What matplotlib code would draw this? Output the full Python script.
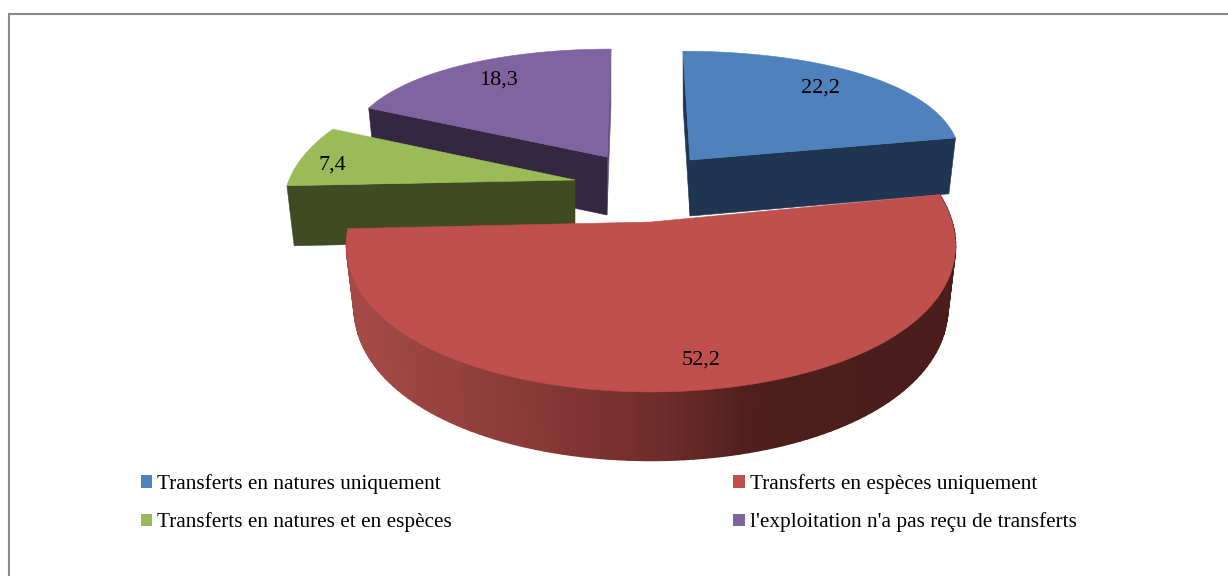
#! /bin/python3

import numpy as np
import matplotlib
matplotlib.use('Agg')
import matplotlib.pyplot as plt
from matplotlib.collections import PolyCollection
from matplotlib.colors import LinearSegmentedColormap
from matplotlib.patches import Patch, Polygon

# chart data
categories = ['Transferts en natures uniquement',
              'Transferts en espèces uniquement',
              'Transferts en natures et en espèces',
              "l'exploitation n'a pas reçu de transferts"]
values = [22.2, 52.2, 7.4, 18.3]
value_labels = ['22,2', '52,2', '7,4', '18,3']

# colours: top face, cut face, thin far face
top_colors = ['#4F81BD', '#C0504D', '#9BBB59', '#8064A2']
wall_colors = ['#1F3552', '#4B1E1D', '#404A23', '#342741']
sliver_colors = ['#1F3552', '#4B1E1D', '#404A23', '#684F88']

# layout of each exploded slice, in pixels of the picture
tips = [(690, 160), (651, 222), (575, 180), (607, 157)]
radius_x = [271, 301, 286, 263]
radius_y = [130, 157, 134, 129]
persp_x = [0.0, 0.15, 0.19, 0.0]
persp_y = [0.195, 0.076, 0.195, 0.195]
shear = [-7, 0, 0, 4]
depth = [56, 60, 60, 58]
bottom_scale_y = [1.0, 1.05, 1.0, 1.0]
label_pos = [(820, 88), (701, 360), (332, 165), (498, 80)]

plt.rcParams['font.family'] = ['Liberation Serif', 'DejaVu Sans']

fig = plt.figure(figsize=(12.28, 5.76), dpi=100)
ax = fig.add_axes([0, 0, 1, 1])
ax.set_xlim(0, 1228)
ax.set_ylim(576, 0)
ax.axis('off')

# chart frame, only the left and top sides fall inside the picture
ax.plot([9, 9, 1228], [576, 14, 14], color='#8a8a8a', lw=1.5, solid_joinstyle='miter')


def rim(i, t):
    # t is the clockwise angle from the top, in radians
    u, v = np.sin(t), np.cos(t)
    x = tips[i][0] + (radius_x[i] * u + shear[i] * v) / (1 + persp_x[i] * v)
    y = tips[i][1] - radius_y[i] * v / (1 + persp_y[i] * v)
    return x, y


def drop(i, x, y):
    # same point on the underside of the slice
    return (tips[i][0] + 0.975 * (x - tips[i][0]),
            tips[i][1] + bottom_scale_y[i] * (y - tips[i][1]) + depth[i])


def slice_angles(i):
    cum = np.cumsum([0] + values) / sum(values) * 2 * np.pi
    return np.linspace(cum[i], cum[i + 1], 120)


def face(i, edge, color, z):
    tip = tips[i]
    ex, ey = rim(i, edge)
    pts = [tip, (ex, ey), drop(i, ex, ey), drop(i, *tip)]
    ax.add_patch(Polygon(pts, closed=True, fc=color, ec=color, lw=0.4, zorder=z))


def top_face(i, z):
    xs, ys = rim(i, slice_angles(i))
    pts = [tips[i]] + list(zip(xs, ys))
    ax.add_patch(Polygon(pts, closed=True, fc=top_colors[i], ec=top_colors[i], lw=0.4, zorder=z))


# purple, far away
t = slice_angles(3)
face(3, t[-1], sliver_colors[3], 1)
face(3, t[0], wall_colors[3], 2)
top_face(3, 3)

# green
t = slice_angles(2)
face(2, t[0], wall_colors[2], 4)
top_face(2, 5)

# blue
t = slice_angles(0)
face(0, t[0], sliver_colors[0], 6)
face(0, t[-1], wall_colors[0], 7)
top_face(0, 8)

# red with its shaded outer wall
t = slice_angles(1)
xs, ys = rim(1, t)
xb, yb = drop(1, xs, ys)
quads = [[(xs[j], ys[j]), (xs[j + 1], ys[j + 1]), (xb[j + 1], yb[j + 1]), (xb[j], yb[j])]
         for j in range(len(t) - 1)]
shade = LinearSegmentedColormap.from_list('wall', [(0, '#A34A47'), (0.25, '#8D3C39'),
                                                   (0.5, '#702D2B'), (0.68, '#4C1E1C'),
                                                   (1, '#4B1E1D')])
wall_col = shade(np.clip(((xs[:-1] + xs[1:]) / 2 - 355) / 600, 0, 1))
ax.add_collection(PolyCollection(quads, facecolors=wall_col, edgecolors=wall_col, lw=1.2, zorder=9))
top_face(1, 10)

for i in range(len(values)):
    ax.text(label_pos[i][0], label_pos[i][1], value_labels[i], fontsize=16, color='black',
            ha='center', va='center', zorder=11)

# ncols fills by column, so swap the middle two to read like the original rows
order = [0, 2, 1, 3]
handles = [Patch(fc=top_colors[i], ec=top_colors[i], lw=0, label=categories[i]) for i in order]
ax.legend(handles=handles, ncols=2, loc='upper left', bbox_to_anchor=(141, 474),
          bbox_transform=ax.transData, frameon=False, fontsize=15.3, borderpad=0, borderaxespad=0,
          handlelength=0.52, handleheight=0.52, handletextpad=0.24, columnspacing=13.25,
          labelspacing=0.87)

fig.savefig('out.png', dpi=100)
